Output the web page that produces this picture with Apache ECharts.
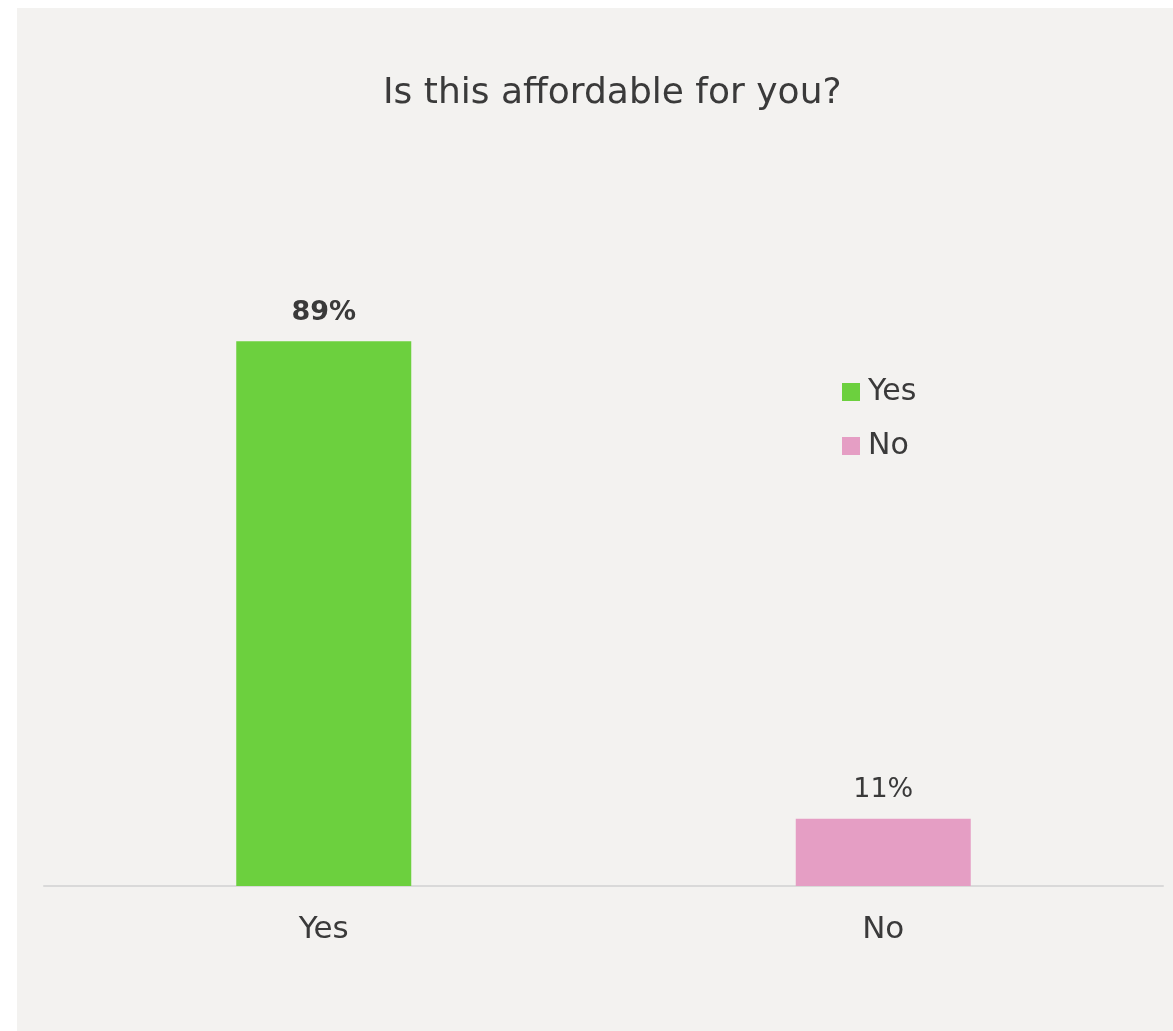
<!DOCTYPE html>
<html>
<head>
<meta charset="utf-8">
<script src="https://cdn.jsdelivr.net/npm/echarts@6/dist/echarts.min.js"></script>
<style>
  html, body { margin: 0; padding: 0; background: #ffffff; }
  #wrap { position: relative; width: 1173px; height: 1031px; overflow: hidden; }
  #chart { position: absolute; left: 17px; top: 8px; width: 1156px; height: 1023px; }
</style>
</head>
<body>
<div id="wrap"><div id="chart"></div></div>
<script>
// Survey answers: share of respondents per answer (%)
const categories = ['Yes', 'No'];
const values = [89, 11];
const colors = ['#6cd03e', '#e59ec4'];
const boldLabel = [true, false];

const FONT = '"DejaVu Sans", sans-serif';
const TEXT = '#3a3a3a';

// one series per answer so the legend lists each answer with its own colour
const series = categories.map((name, i) => ({
  name: name,
  type: 'bar',
  stack: 'answers',
  barWidth: 175,
  itemStyle: { color: colors[i] },
  label: {
    show: true,
    position: 'top',
    distance: 15,
    formatter: p => p.value + '%',
    fontFamily: FONT,
    fontSize: 27,
    fontWeight: boldLabel[i] ? 'bold' : 'normal',
    color: TEXT
  },
  data: categories.map((c, j) => (j === i ? values[i] : '-'))
}));

const chart = echarts.init(document.getElementById('chart'), null, { renderer: 'canvas' });
chart.setOption({
  backgroundColor: '#f3f2f0',
  animation: false,
  title: {
    text: 'Is this affordable for you?',
    left: 361,
    top: 63,
    textStyle: { fontFamily: FONT, fontSize: 36, fontWeight: 'normal', color: TEXT }
  },
  legend: {
    orient: 'vertical',
    left: 820,
    top: 364,
    itemWidth: 18,
    itemHeight: 18,
    itemGap: 24,
    icon: 'rect',
    textStyle: { fontFamily: FONT, fontSize: 30, lineHeight: 30, color: TEXT, padding: [0, 0, 0, 3] },
    data: categories
  },
  grid: { left: 27, right: 10, top: 266, bottom: 145, containLabel: false },
  xAxis: {
    type: 'category',
    data: categories,
    axisLine: { lineStyle: { color: '#d9d9d9', width: 2 } },
    axisTick: { show: false },
    axisLabel: { fontFamily: FONT, fontSize: 31, color: TEXT, margin: 28 }
  },
  yAxis: {
    type: 'value',
    min: 0,
    max: 100,
    show: false,
    splitLine: { show: false }
  },
  series: series
});
</script>
</body>
</html>
